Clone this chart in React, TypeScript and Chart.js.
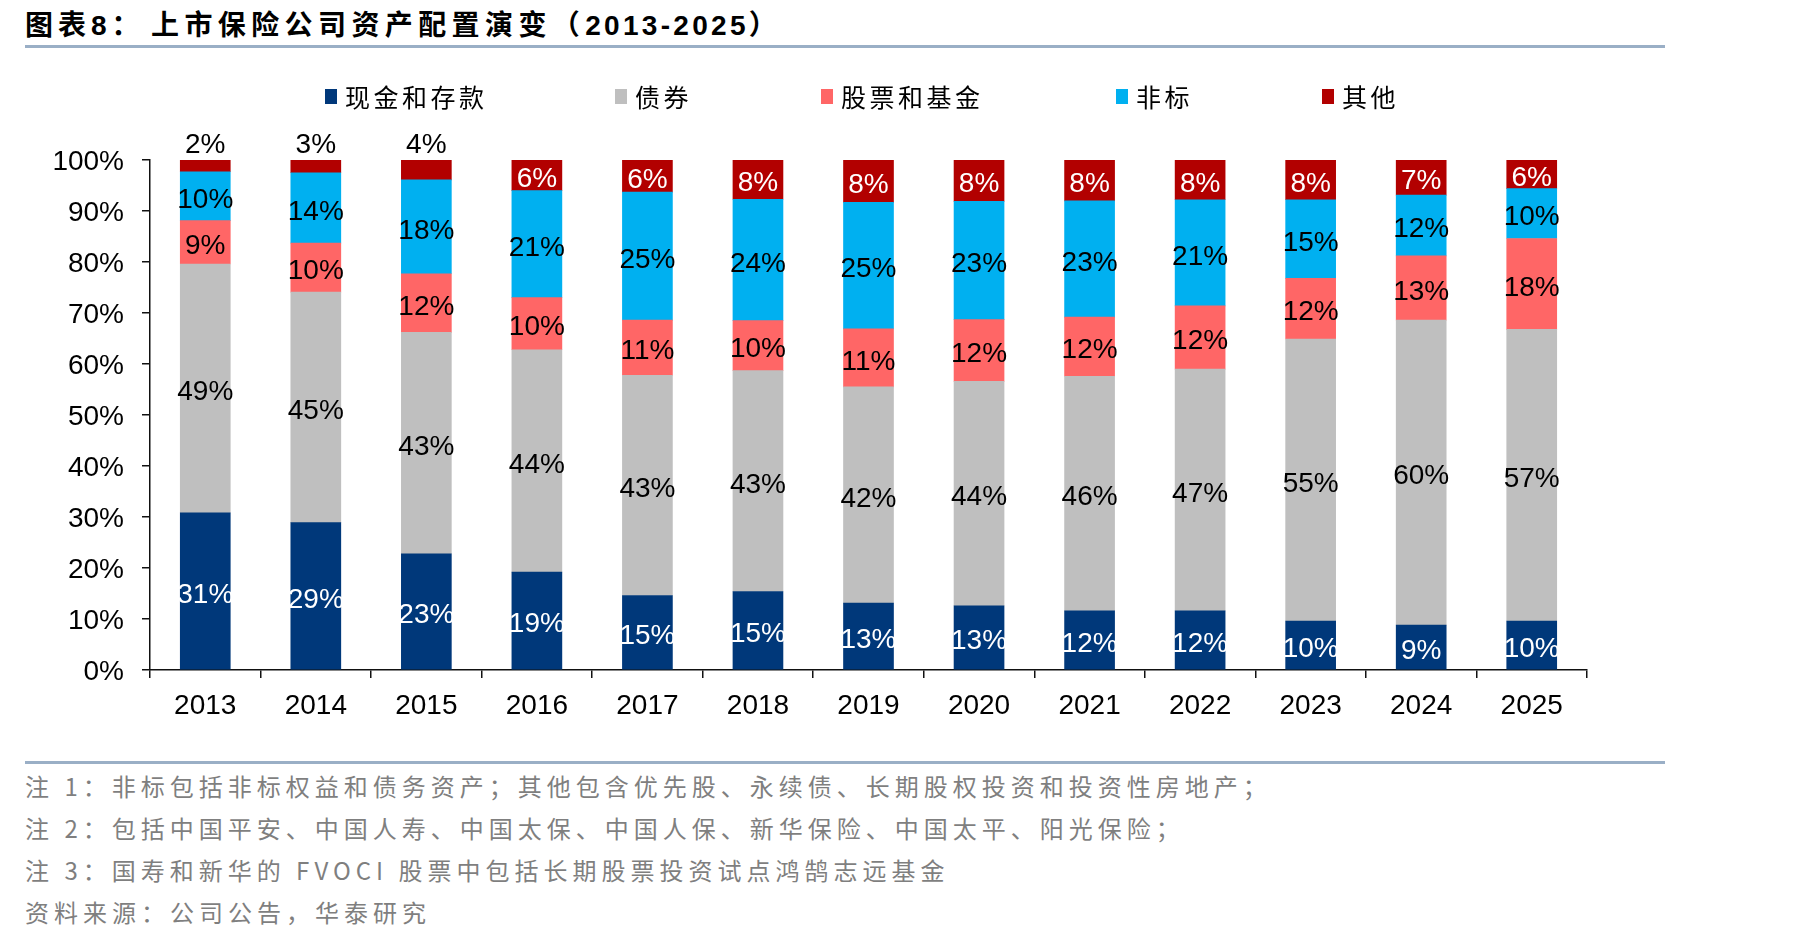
import React, { useEffect, useRef } from 'react';
import { Chart, registerables } from 'chart.js';

Chart.register(...registerables);

// ---------- data ----------
const years = ['2013', '2014', '2015', '2016', '2017', '2018', '2019', '2020', '2021', '2022', '2023', '2024', '2025'];
const seriesNames = ['现金和存款', '债券', '股票和基金', '非标', '其他'];
const cashDeposits = [30.8, 28.9, 22.8, 19.2, 14.6, 15.4, 13.1, 12.6, 11.6, 11.6, 9.6, 8.8, 9.6];
const bonds = [48.8, 45.2, 43.4, 43.6, 43.2, 43.3, 42.4, 44.0, 46.0, 47.4, 55.3, 59.8, 57.2];
const equityFunds = [8.5, 9.6, 11.5, 10.2, 10.8, 9.8, 11.4, 12.1, 11.6, 12.4, 11.9, 12.6, 17.8];
const nonStandard = [9.6, 13.8, 18.4, 21.0, 25.1, 23.8, 24.8, 23.2, 22.8, 20.8, 15.4, 11.9, 9.8];
const others = [2.3, 2.5, 3.9, 6.0, 6.3, 7.7, 8.3, 8.1, 8.0, 7.8, 7.8, 6.9, 5.6];
const yTickStep = 10;
const footnotes = [
  '注 1：非标包括非标权益和债务资产；其他包含优先股、永续债、长期股权投资和投资性房地产；',
  '注 2：包括中国平安、中国人寿、中国太保、中国人保、新华保险、中国太平、阳光保险；',
  '注 3：国寿和新华的 FVOCI 股票中包括长期股票投资试点鸿鹄志远基金',
  '资料来源：公司公告，华泰研究',
];

// ---------- styles ----------
const seriesColors = ['#00387A', '#BFBFBF', '#FF6666', '#00B0F0', '#B20000'];
const labelColors = ['#FFFFFF', '#000000', '#000000', '#000000', '#FFFFFF'];
const LATIN = '"Liberation Sans", Arial, sans-serif';
const CJK = '"Noto Sans CJK SC", "Noto Sans", sans-serif';
const legendLeft = [325, 615, 821, 1116, 1322];
const footnoteCenters = [786, 828, 870, 912];

const segLabels = {
  id: 'segLabels',
  afterDatasetsDraw(chart: any) {
    const ctx = chart.ctx;
    ctx.save();
    ctx.font = `28px ${LATIN}`;
    ctx.textAlign = 'center';
    ctx.textBaseline = 'middle';
    chart.data.datasets.forEach((ds: any, di: number) => {
      const meta = chart.getDatasetMeta(di);
      meta.data.forEach((bar: any, i: number) => {
        const v = ds.data[i] as number;
        const p = bar.getProps(['x', 'y', 'base'], true);
        let cy = (p.y + p.base) / 2 + 4;
        let color = labelColors[di];
        if (di === 4 && v < 5) {
          cy = p.y - 15;
          color = '#000000';
        }
        ctx.fillStyle = color;
        ctx.fillText(Math.round(v) + '%', p.x, cy);
      });
    });
    ctx.restore();
  },
};

export default function App() {
  const ref = useRef<HTMLCanvasElement | null>(null);

  useEffect(() => {
    if (!ref.current) return;
    const series = [cashDeposits, bonds, equityFunds, nonStandard, others];
    const chart = new Chart(ref.current, {
      type: 'bar',
      data: {
        labels: years,
        datasets: series.map((d, i) => ({
          label: seriesNames[i],
          data: d,
          backgroundColor: seriesColors[i],
          borderWidth: 0,
          barThickness: 50,
        })),
      },
      options: {
        animation: false,
        responsive: false,
        devicePixelRatio: 1,
        layout: { padding: { left: 0, right: 232, top: 160, bottom: 0 } },
        plugins: { legend: { display: false }, tooltip: { enabled: false }, title: { display: false } },
        scales: {
          x: {
            stacked: true,
            ticks: { font: { size: 28, family: LATIN }, color: '#000', padding: 11 },
            grid: { offset: true, drawOnChartArea: false, tickLength: 8, color: '#111', lineWidth: 1.5 },
            border: { display: true, color: '#111', width: 1.5 },
            afterFit(s: any) { s.height = 90; },
          },
          y: {
            stacked: true,
            min: 0,
            max: 100,
            ticks: {
              stepSize: yTickStep,
              font: { size: 28, family: LATIN },
              color: '#000',
              padding: 18,
              labelOffset: 2,
              callback: (v: any) => v + '%',
            },
            grid: { drawOnChartArea: false, tickLength: 8, color: '#111', lineWidth: 1.5 },
            border: { display: true, color: '#111', width: 1.5 },
            afterFit(s: any) { s.width = 150; },
          },
        },
      },
      plugins: [segLabels],
    } as any);
    return () => chart.destroy();
  }, []);

  const rule = (top: number) => (
    <div style={{ position: 'absolute', left: 25, top, width: 1640, height: 3, background: '#9AAFC6' }} />
  );

  return (
    <div style={{ position: 'fixed', left: 0, top: 0, width: 1819, height: 941, background: '#fff', overflow: 'hidden' }}>
      {/* title */}
      <div style={{ position: 'absolute', left: 25, top: 5, lineHeight: '36px', fontSize: 28, fontWeight: 700, fontFamily: CJK, letterSpacing: '5px', color: '#000', whiteSpace: 'nowrap' }}>
        图表<span style={{ fontFamily: LATIN }}>8</span>：
      </div>
      <div style={{ position: 'absolute', left: 151, top: 5, lineHeight: '36px', fontSize: 28, fontWeight: 700, fontFamily: CJK, letterSpacing: '5.4px', color: '#000', whiteSpace: 'nowrap' }}>
        上市保险公司资产配置演变（
        <span style={{ fontFamily: LATIN, letterSpacing: '3.3px' }}>2013-2025</span>
        <span style={{ letterSpacing: 0 }}>）</span>
      </div>
      {rule(45)}

      <canvas ref={ref} width={1819} height={760} style={{ position: 'absolute', left: 0, top: 0, display: 'block' }} />

      {/* legend */}
      {seriesNames.map((n, i) => (
        <div key={n} style={{ position: 'absolute', left: legendLeft[i], top: 80, height: 32, display: 'flex', alignItems: 'center', whiteSpace: 'nowrap' }}>
          <div style={{ width: 12, height: 15, background: seriesColors[i], marginRight: 8 }} />
          <span style={{ fontFamily: CJK, fontSize: 25, letterSpacing: '3.5px', color: '#000', lineHeight: '32px' }}>{n}</span>
        </div>
      ))}

      {rule(761)}
      {footnotes.map((t, i) => (
        <div key={i} style={{ position: 'absolute', left: 25, top: footnoteCenters[i] - 15, lineHeight: '30px', fontSize: 24, fontFamily: CJK, letterSpacing: '5px', color: '#7F7F7F', whiteSpace: 'nowrap' }}>
          {t}
        </div>
      ))}
    </div>
  );
}
